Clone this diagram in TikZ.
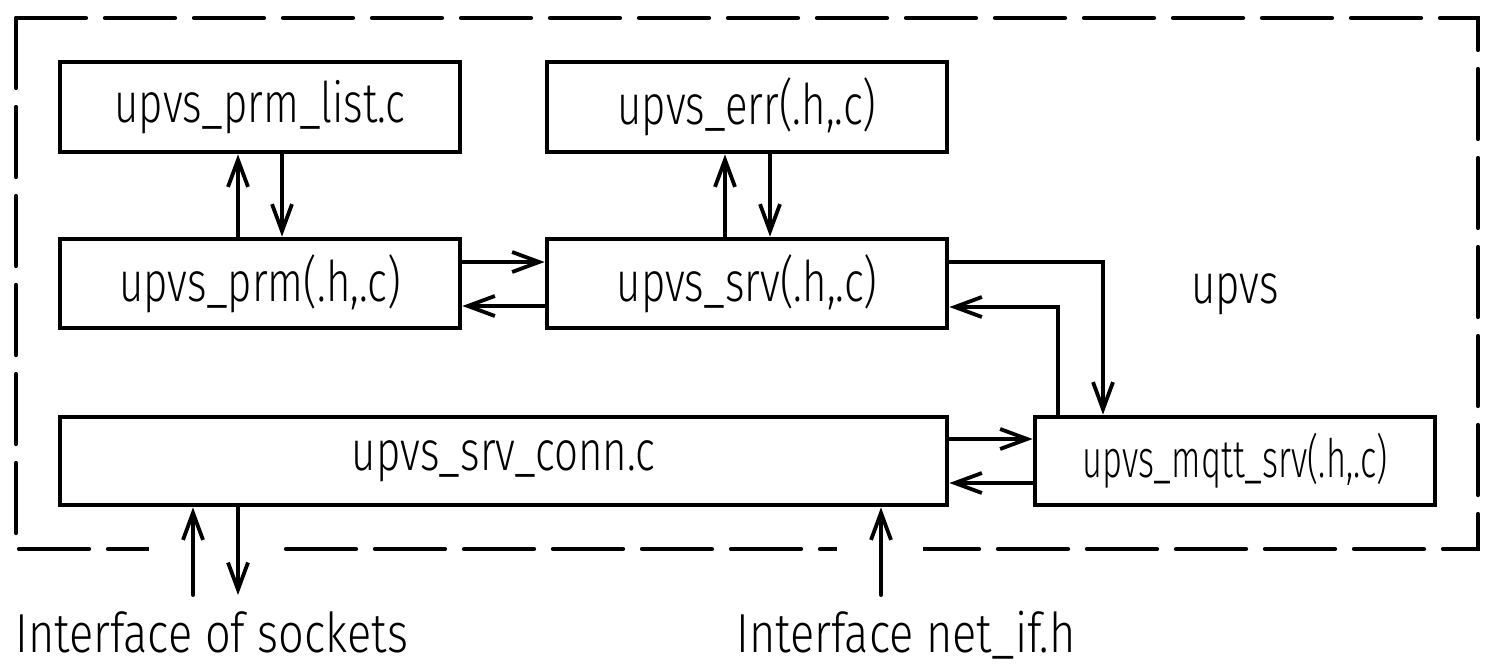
\documentclass[tikz,border=0pt]{standalone}
\usepackage{fontspec}
\newfontfamily\boxfont{Fira Sans Light}[FakeStretch=0.75]
\newfontfamily\narrowfont{Fira Sans Light}[FakeStretch=0.65]
\newfontfamily\lblfont{Fira Sans Light}[FakeStretch=0.82]
\usetikzlibrary{arrows.meta}
\tikzset{
  box/.style={draw, line width=2.4pt, minimum height=44.5pt, inner sep=0pt,
    font=\boxfont\fontsize{28}{30}\selectfont},
  arr/.style={line width=1.9pt, line cap=round, -{Straight Barb[length=13.5pt,width=10pt]}},
  frame/.style={line width=2.1pt, line cap=round, dash pattern=on 35pt off 9.5pt},
  lbl/.style={inner sep=0pt, text depth=0pt, anchor=base west, font=\lblfont\fontsize{27.5}{30}\selectfont},
}
\begin{document}
\begin{tikzpicture}[x=0.5pt,y=-0.5pt]
\useasboundingbox (0,0) rectangle (1489,665);
% frame
\draw[frame] (16,18) -- (1478,18) -- (1478,549) -- (16,549) -- cycle;
\fill[white] (149,535) rectangle (281,563);
\fill[white] (837,535) rectangle (923,563);
% boxes
\node[box, minimum width=200pt, minimum height=45pt] (list) at (260,107) {upvs\_prm\_list.c};
\node[box, minimum width=200pt] (prm) at (260,283.5) {upvs\_prm(.h,.c)};
\node[box, minimum width=200pt, minimum height=45pt] (err) at (747,107) {upvs\_err(.h,.c)};
\node[box, minimum width=200pt] (srv) at (747,283.5) {upvs\_srv(.h,.c)};
\node[box, minimum width=443.5pt, minimum height=44pt] (conn) at (503.5,461) {upvs\_srv\_conn.c};
\node[box, minimum width=200pt, minimum height=44pt, font=\narrowfont\fontsize{26.5}{28}\selectfont] (mqtt) at (1235,461) {upvs\_mqtt\_srv(.h,.c)};
\node[anchor=base, inner sep=0pt, font=\boxfont\fontsize{28}{30}\selectfont] (upvs) at (1235,303) {upvs};
% labels
\node[lbl] (sock) at (15,652) {Interface of sockets};
\node[lbl] (netif) at (736,652) {Interface net\_if.h};
\coordinate (s1) at (193,595);
\coordinate (s2) at (238,595);
\coordinate (n1) at (881,595);
% connectors
\draw[arr] (238,0 |- prm.north) -- (238,0 |- list.south);
\draw[arr] (282,0 |- list.south) -- (282,0 |- prm.north);
\draw[arr] (725,0 |- srv.north) -- (725,0 |- err.south);
\draw[arr] (770,0 |- err.south) -- (770,0 |- srv.north);
\draw[arr] (prm.east |- 0,262) -- (srv.west |- 0,262);
\draw[arr] (srv.west |- 0,306) -- (prm.east |- 0,306);
\draw[arr] (srv.east |- 0,262) -| (1103,0 |- mqtt.north);
\draw[arr] (1058,0 |- mqtt.north) |- (srv.east |- 0,307);
\draw[arr] (conn.east |- 0,439) -- (mqtt.west |- 0,439);
\draw[arr] (mqtt.west |- 0,483) -- (conn.east |- 0,483);
\draw[arr] (s1) -- (s1 |- conn.south);
\draw[arr] (s2 |- conn.south) -- (s2);
\draw[arr] (n1) -- (n1 |- conn.south);
\end{tikzpicture}
\end{document}
